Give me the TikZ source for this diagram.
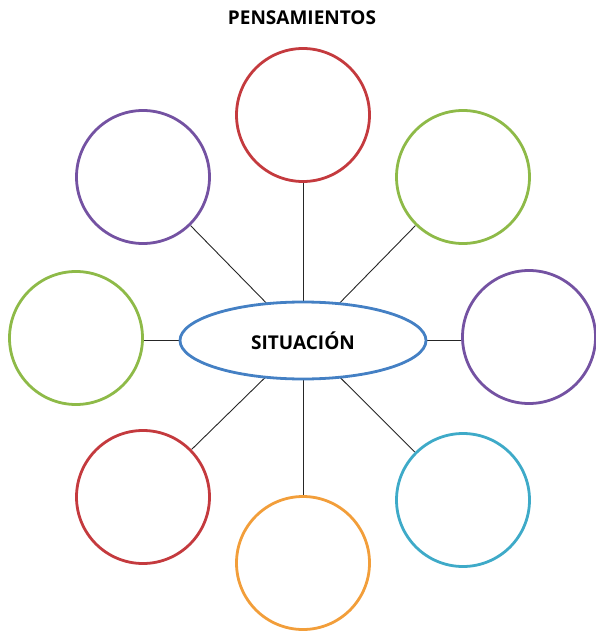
\documentclass[tikz,border=0pt]{standalone}
\usepackage{fontspec}
\setmainfont{Open Sans}
\usetikzlibrary{shapes.geometric,backgrounds}
\definecolor{rojo}{RGB}{196,58,62}
\definecolor{morado}{RGB}{116,82,162}
\definecolor{verde}{RGB}{142,186,72}
\definecolor{celeste}{RGB}{62,170,200}
\definecolor{naranja}{RGB}{242,158,58}
\definecolor{azul}{RGB}{68,128,196}
\begin{document}
\begin{tikzpicture}[x=1pt,y=-1pt,
  idea/.style={circle,draw,line width=2.8pt,minimum size=133pt,inner sep=0pt},
  lazo/.style={line width=0.9pt,black!85}]
\useasboundingbox (0,0) rectangle (595,631);
\node [font=\bfseries\fontsize{19}{22}\selectfont] (titulo) at (302,18) {PENSAMIENTOS};

\node [ellipse,draw=azul,fill=white,line width=2.8pt,minimum width=246pt,minimum height=77pt,font=\bfseries\fontsize{19}{22}\selectfont] (sit) at (303,340.5) {SITUACIÓN};

\node [idea,draw=rojo] (p1) at (303,115) {};
\node [idea,draw=verde] (p2) at (463,177) {};
\node [idea,draw=morado] (p3) at (529,337) {};
\node [idea,draw=celeste] (p4) at (463,500) {};
\node [idea,draw=naranja] (p5) at (303,563) {};
\node [idea,draw=rojo] (p6) at (143,497) {};
\node [idea,draw=verde] (p7) at (76,338) {};
\node [idea,draw=morado] (p8) at (143,177) {};

\begin{scope}[on background layer]
\foreach \p in {p1,p2,p4,p5,p6,p8}
  \draw [lazo] (sit.center) -- (\p);
\draw [lazo] (sit.center) -- (p3.west |- sit.center);
\draw [lazo] (sit.center) -- (p7.east |- sit.center);
\end{scope}
\end{tikzpicture}
\end{document}
